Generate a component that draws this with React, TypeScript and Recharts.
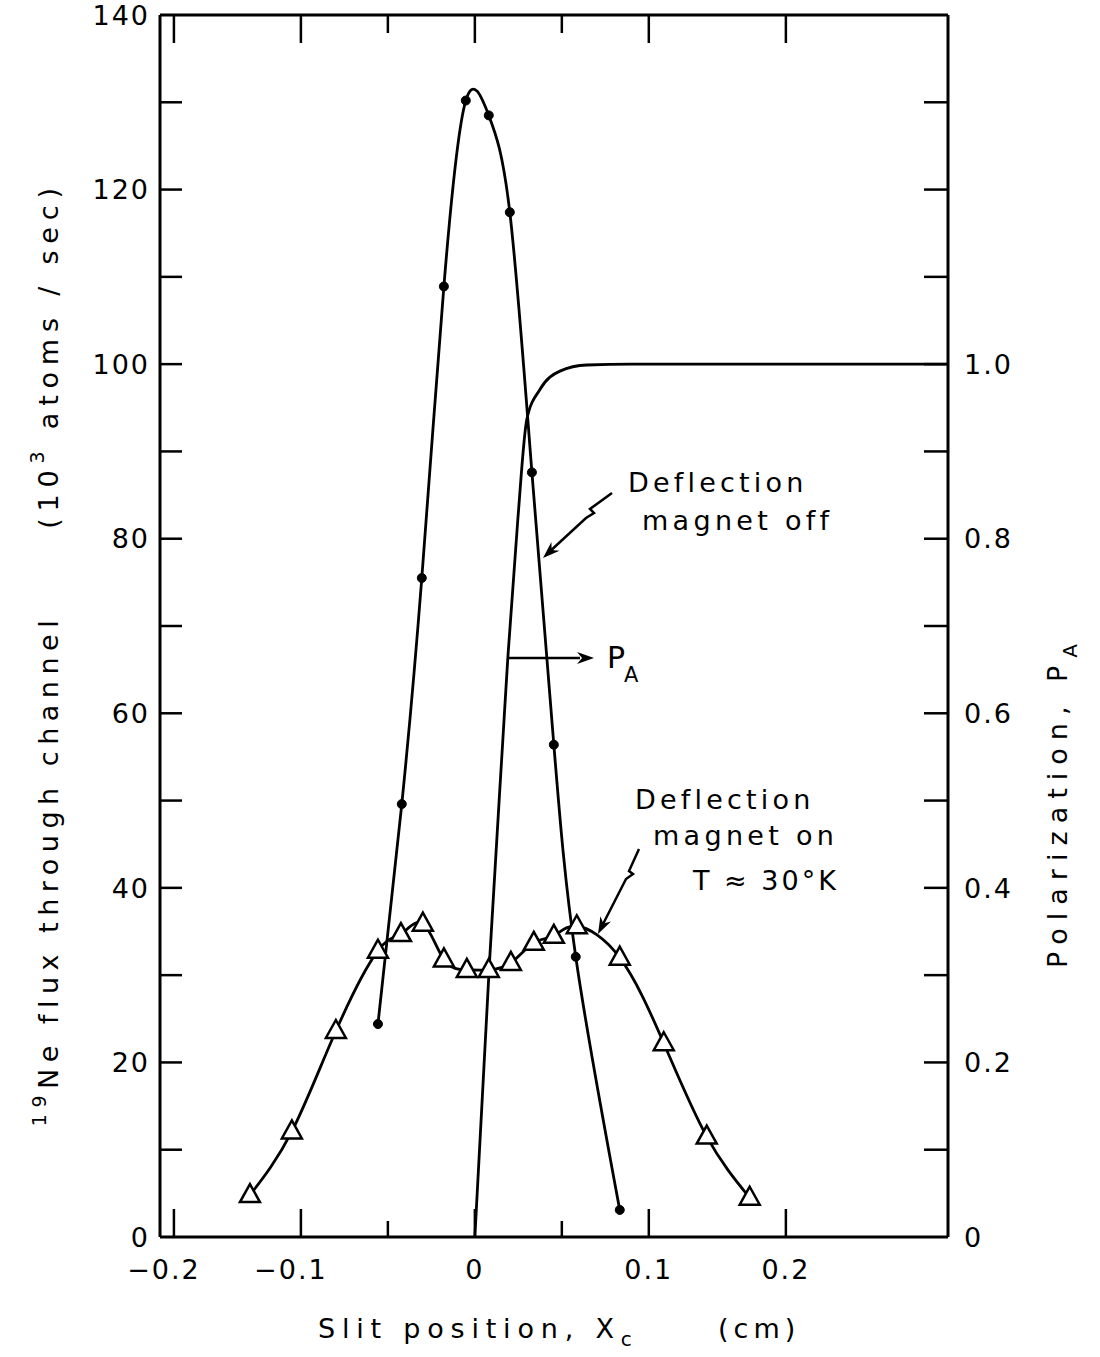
import React from 'react';
import { ComposedChart, Line, XAxis, YAxis } from 'recharts';

const FONT = '"DejaVu Sans", "Liberation Sans", sans-serif';

// deflection magnet off (circles)
const offX = [-0.0557, -0.042, -0.0305, -0.0178, -0.0052, 0.008, 0.0201, 0.0328, 0.0454, 0.058, 0.0833];
const offFlux = [24.4, 49.6, 75.5, 108.9, 130.2, 128.5, 117.4, 87.6, 56.4, 32.1, 3.1];

// deflection magnet on, T ~ 30 K (triangles)
const onX = [-0.1293, -0.1052, -0.0799, -0.0557, -0.0425, -0.0299, -0.0178, -0.0046, 0.008, 0.0207, 0.0339, 0.0454, 0.0586, 0.0833, 0.1086, 0.1333, 0.158];
const onFlux = [4.8, 12.1, 23.6, 32.8, 34.7, 35.9, 31.8, 30.6, 30.6, 31.4, 33.7, 34.5, 35.6, 32.0, 22.2, 11.5, 4.5];

// polarization P_A (right axis)
const polX = [0, 0.0086, 0.0161, 0.019, 0.0247, 0.0299, 0.0374, 0.0489, 0.0644, 0.09, 0.272];
const polP = [0, 0.321, 0.57, 0.665, 0.822, 0.937, 0.971, 0.992, 0.999, 1.0, 1.0];

// axis ticks (the printed -0.2 / 0.2 marks sit off the linear scale in the original)
const xTickValues = [-0.173, -0.1, -0.05, 0, 0.05, 0.1, 0.1788];
const xTickLabels = ['\u22120.2', '\u22120.1', '', '0', '', '0.1', '0.2'];
const xTickMajor = [true, true, false, true, false, true, true];

const leftTickValues = [0, 10, 20, 30, 40, 50, 60, 70, 80, 90, 100, 110, 120, 130, 140];
const leftTickLabels = ['0', '', '20', '', '40', '', '60', '', '80', '', '100', '', '120', '', '140'];

const rightTickValues = [0, 0.1, 0.2, 0.3, 0.4, 0.5, 0.6, 0.7, 0.8, 0.9, 1.0, 1.1, 1.2, 1.3];
const rightTickLabels = ['0', '', '0.2', '', '0.4', '', '0.6', '', '0.8', '', '1.0', '', '', ''];

const offData = offX.map((x, i) => ({ x, flux: offFlux[i] }));
const onData = onX.map((x, i) => ({ x, flux: onFlux[i] }));
const polData = polX.map((x, i) => ({ x, p: polP[i] }));

const labelStyle = { fontFamily: FONT, fontSize: 27, fill: '#000', letterSpacing: 2 };

const BottomTick = (props: any) => {
  const { x, y, index } = props;
  const len = xTickMajor[index] ? 28 : 16;
  const label = xTickLabels[index];
  const neg = label.startsWith('\u2212');
  return (
    <g>
      <line x1={x} y1={y} x2={x} y2={y - len} stroke="#000" strokeWidth={2.5} />
      {label && (
        <text x={x + (neg ? -10 : 0)} y={y + 42} textAnchor="middle" style={labelStyle}>{label}</text>
      )}
    </g>
  );
};

const TopTick = (props: any) => {
  const { x, y, index } = props;
  const len = xTickMajor[index] ? 28 : 18;
  return <line x1={x} y1={y} x2={x} y2={y + len} stroke="#000" strokeWidth={2.5} />;
};

const LeftTick = (props: any) => {
  const { x, y, index } = props;
  const label = leftTickLabels[index];
  const inside = index > 0 && index < leftTickValues.length - 1;
  return (
    <g>
      {inside && <line x1={x} y1={y} x2={x + 22} y2={y} stroke="#000" strokeWidth={2.5} />}
      {label && (
        <text x={x - 10} y={y} dy="0.36em" textAnchor="end" style={labelStyle}>{label}</text>
      )}
    </g>
  );
};

const RightTick = (props: any) => {
  const { x, y, index } = props;
  const label = rightTickLabels[index];
  return (
    <g>
      {index > 0 && <line x1={x} y1={y} x2={x - 24} y2={y} stroke="#000" strokeWidth={2.5} />}
      {label && (
        <text x={x + 16} y={y} dy="0.36em" textAnchor="start" style={labelStyle}>{label}</text>
      )}
    </g>
  );
};

const CircleDot = (props: any) => {
  const { cx, cy } = props;
  return <circle cx={cx} cy={cy} r={4.5} fill="#000" stroke="#000" strokeWidth={1} />;
};

const TriangleDot = (props: any) => {
  const { cx, cy } = props;
  const pts = `${cx},${cy - 11} ${cx - 10},${cy + 7} ${cx + 10},${cy + 7}`;
  return <polygon points={pts} fill="#fff" stroke="#000" strokeWidth={2.5} strokeLinejoin="miter" />;
};

function head(tipX: number, tipY: number, fromX: number, fromY: number) {
  const dx = tipX - fromX;
  const dy = tipY - fromY;
  const d = Math.hypot(dx, dy);
  const ux = dx / d;
  const uy = dy / d;
  const px = -uy;
  const py = ux;
  const L = 17;
  const W = 6;
  const p1 = `${tipX},${tipY}`;
  const p2 = `${tipX - ux * L + px * W},${tipY - uy * L + py * W}`;
  const p3 = `${tipX - ux * L * 0.7},${tipY - uy * L * 0.7}`;
  const p4 = `${tipX - ux * L - px * W},${tipY - uy * L - py * W}`;
  return <polygon points={`${p1} ${p2} ${p3} ${p4}`} fill="#000" />;
}

const textStyle = { fontFamily: FONT, fill: '#000' };

function Overlay() {
  return (
    <svg width={1100} height={1357} style={{ position: 'absolute', left: 0, top: 0, pointerEvents: 'none' }}>
      {/* Deflection magnet off */}
      <text x={628} y={492} fontSize={27} letterSpacing={4.2} style={textStyle}>Deflection</text>
      <text x={642} y={530} fontSize={27} letterSpacing={4.3} style={textStyle}>magnet off</text>
      <polyline points="612,493 590,509 594,513 586,518 547,554" fill="none" stroke="#000" strokeWidth={2.5} />
      {head(543, 558, 586, 518)}

      {/* P_A arrow */}
      <line x1={508} y1={658} x2={580} y2={658} stroke="#000" strokeWidth={2.5} />
      {head(594, 658, 508, 658)}
      <text x={607} y={668} fontSize={30} style={textStyle}>P</text>
      <text x={624} y={682} fontSize={21} style={textStyle}>A</text>

      {/* Deflection magnet on */}
      <text x={635} y={809} fontSize={27} letterSpacing={4.2} style={textStyle}>Deflection</text>
      <text x={653} y={845} fontSize={27} letterSpacing={4.3} style={textStyle}>magnet on</text>
      <text x={693} y={890} fontSize={27} letterSpacing={3} style={textStyle}>T ≈ 30°K</text>
      <polyline points="639,849 629,871 633,874 626,879 601,928" fill="none" stroke="#000" strokeWidth={2.5} />
      {head(598, 934, 626, 879)}

      {/* axis titles */}
      <text transform="translate(58, 870) rotate(-90)" textAnchor="middle" style={textStyle} fontSize={27} letterSpacing={6.5}>
        <tspan fontSize={19} dy={-12}>19</tspan>
        <tspan dy={12}>Ne flux through channel</tspan>
      </text>
      <text transform="translate(58, 355) rotate(-90)" textAnchor="middle" style={textStyle} fontSize={27} letterSpacing={6.8}>
        <tspan>(10</tspan>
        <tspan fontSize={19} dy={-14}>3</tspan>
        <tspan dy={14}> atoms / sec)</tspan>
      </text>
      <text transform="translate(1067, 802) rotate(-90)" textAnchor="middle" style={textStyle} fontSize={27} letterSpacing={8}>
        <tspan>Polarization, P</tspan>
        <tspan fontSize={20} dy={10}>A</tspan>
      </text>
      <text x={318} y={1338} style={textStyle} fontSize={27} letterSpacing={6.8}>
        <tspan>Slit position, X</tspan>
        <tspan fontSize={20} dy={8}>c</tspan>
      </text>
      <text x={718} y={1338} style={textStyle} fontSize={27} letterSpacing={5}>(cm)</text>
    </svg>
  );
}

export default function App() {
  return (
    <div style={{ position: 'absolute', left: 0, top: 0, width: 1100, height: 1357, background: '#fff' }}>
      <ComposedChart width={1100} height={1357} margin={{ top: 0, right: 0, bottom: 0, left: 0 }}>
        <XAxis
          xAxisId="bottom"
          type="number"
          dataKey="x"
          domain={[-0.181, 0.272]}
          allowDataOverflow
          ticks={xTickValues}
          interval={0}
          height={120}
          tickSize={0}
          tickMargin={0}
          tickLine={false}
          axisLine={{ stroke: '#000', strokeWidth: 3 }}
          tick={<BottomTick />}
        />
        <XAxis
          xAxisId="top"
          orientation="top"
          type="number"
          dataKey="x"
          domain={[-0.181, 0.272]}
          allowDataOverflow
          ticks={xTickValues}
          interval={0}
          height={15}
          tickSize={0}
          tickMargin={0}
          tickLine={false}
          axisLine={{ stroke: '#000', strokeWidth: 3 }}
          tick={<TopTick />}
        />
        <YAxis
          yAxisId="left"
          type="number"
          domain={[0, 140]}
          allowDataOverflow
          ticks={leftTickValues}
          interval={0}
          width={160}
          tickSize={0}
          tickMargin={0}
          tickLine={false}
          axisLine={{ stroke: '#000', strokeWidth: 3 }}
          tick={<LeftTick />}
        />
        <YAxis
          yAxisId="right"
          orientation="right"
          type="number"
          domain={[0, 1.4]}
          allowDataOverflow
          ticks={rightTickValues}
          interval={0}
          width={152}
          tickSize={0}
          tickMargin={0}
          tickLine={false}
          axisLine={{ stroke: '#000', strokeWidth: 3 }}
          tick={<RightTick />}
        />
        <Line
          data={polData}
          xAxisId="bottom"
          yAxisId="right"
          dataKey="p"
          type="monotone"
          stroke="#000"
          strokeWidth={2.8}
          dot={false}
          isAnimationActive={false}
        />
        <Line
          data={offData}
          xAxisId="bottom"
          yAxisId="left"
          dataKey="flux"
          type="natural"
          stroke="#000"
          strokeWidth={2.8}
          dot={<CircleDot />}
          isAnimationActive={false}
        />
        <Line
          data={onData}
          xAxisId="bottom"
          yAxisId="left"
          dataKey="flux"
          type="natural"
          stroke="#000"
          strokeWidth={2.8}
          dot={<TriangleDot />}
          isAnimationActive={false}
        />
      </ComposedChart>
      <Overlay />
    </div>
  );
}
